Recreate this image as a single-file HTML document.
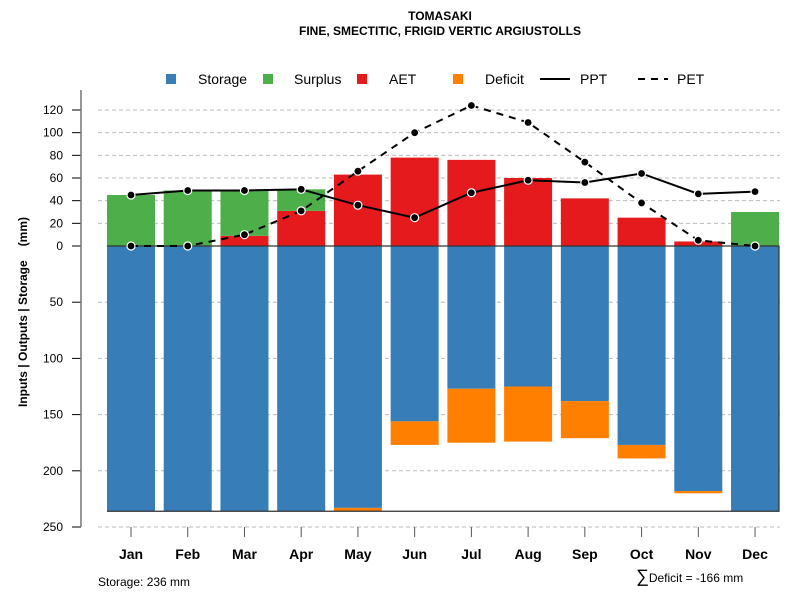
<!DOCTYPE html>
<html><head><meta charset="utf-8"><style>
body{margin:0;background:#fff}
svg text{font-family:"Liberation Sans",Arial,sans-serif}
</style></head><body>
<svg id="c" width="800" height="600" xmlns="http://www.w3.org/2000/svg">
<text x="440" y="20" text-anchor="middle" font-size="12" font-weight="bold">TOMASAKI</text>
<text x="440" y="35" text-anchor="middle" font-size="12" font-weight="bold">FINE, SMECTITIC, FRIGID VERTIC ARGIUSTOLLS</text>
<g id="legend">
<rect x="166" y="74" width="10" height="10" fill="#377eb8"/>
<text x="198" y="84" font-size="14">Storage</text>
<rect x="263" y="74" width="10" height="10" fill="#4daf4a"/>
<text x="294" y="84" font-size="14">Surplus</text>
<rect x="357" y="74" width="10" height="10" fill="#e41a1c"/>
<text x="389" y="84" font-size="14">AET</text>
<rect x="453" y="74" width="10" height="10" fill="#ff7f00"/>
<text x="485" y="84" font-size="14">Deficit</text>
<line x1="540" y1="79" x2="570" y2="79" stroke="#000" stroke-width="2"/>
<text x="580" y="84" font-size="14">PPT</text>
<line x1="638" y1="79" x2="668" y2="79" stroke="#000" stroke-width="2" stroke-dasharray="7,6"/>
<text x="677" y="84" font-size="14">PET</text>
</g>
<text transform="translate(27,312) rotate(-90)" text-anchor="middle" font-size="12" font-weight="bold">Inputs | Outputs | Storage<tspan dx="14">(mm)</tspan></text>
<text x="98" y="586" font-size="12">Storage: 236 mm</text>
<text x="636" y="582" font-size="12"><tspan font-size="18">∑</tspan>Deficit = -166 mm</text>
<g id="plot"></g>
</svg>
<script>
const months=["Jan","Feb","Mar","Apr","May","Jun","Jul","Aug","Sep","Oct","Nov","Dec"];
const storage=[236,236,236,236,233,156,127,125,138,177,218,236];
const deficit=[0,0,0,0,3,21,48,49,33,12,2,0];
const aet=[0,0,9,31,63,78,76,60,42,25,4,0];
const surplus=[45,49,40,19,0,0,0,0,0,0,0,30];
const ppt=[45,49,49,50,36,25,47,58,56,64,46,48];
const pet=[0,0,10,31,66,100,124,109,74,38,5,0];
const upTicks=[0,20,40,60,80,100,120];
const downTicks=[50,100,150,200,250];
const NS="http://www.w3.org/2000/svg";
const g=document.getElementById('plot');
const y0=246;
function yUp(v){return y0-v*1.1333;}
function yDn(v){return y0+v*1.124;}
function xC(i){return 131+i*56.73;}
function mk(t,a){const e=document.createElementNS(NS,t);for(const k in a)e.setAttribute(k,a[k]);g.appendChild(e);return e;}
upTicks.forEach(v=>{const y=yUp(v);
 if(v>0){const l=mk('line',{x1:98,x2:780,y1:y,y2:y,stroke:'#bbb','stroke-dasharray':'4,3'});
 
 }
 const t=mk('line',{x1:72,x2:81,y1:y,y2:y,stroke:'#000'});
 
 
 const tx=mk('text',{x:63,y:y+4,'text-anchor':'end','font-size':12});tx.textContent=v;
 
 });
downTicks.forEach(v=>{const y=yDn(v);
 const l=mk('line',{x1:98,x2:780,y1:y,y2:y,stroke:'#bbb','stroke-dasharray':'4,3'});
 
 
 const t=mk('line',{x1:72,x2:81,y1:y,y2:y,stroke:'#000'});
 
 
 const tx=mk('text',{x:63,y:y+4,'text-anchor':'end','font-size':12});tx.textContent=v;
 
 });
const ax=mk('line',{x1:81,x2:81,y1:90,y2:yDn(250),stroke:'#777','stroke-width':1.5});


const bw=48;
months.forEach((m,i)=>{const x=xC(i)-bw/2;
 const s=mk('rect',{x:x,y:y0,width:bw,height:yDn(storage[i])-y0,fill:'#377eb8'});
 
 
 if(deficit[i]>0){const d=mk('rect',{x:x,y:yDn(storage[i]),width:bw,height:yDn(storage[i]+deficit[i])-yDn(storage[i]),fill:'#ff7f00'});
 
 }
 if(aet[i]>0){const a=mk('rect',{x:x,y:yUp(aet[i]),width:bw,height:y0-yUp(aet[i]),fill:'#e41a1c'});
 
 }
 if(surplus[i]>0){const su=mk('rect',{x:x,y:yUp(aet[i]+surplus[i]),width:bw,height:yUp(aet[i])-yUp(aet[i]+surplus[i]),fill:'#4daf4a'});
 
 }
 const t=mk('line',{x1:xC(i),x2:xC(i),y1:yDn(250),y2:yDn(250)+10,stroke:'#555'});
 
 
 const tx=mk('text',{x:xC(i),y:559,'text-anchor':'middle','font-size':14,'font-weight':'bold'});tx.textContent=m;
 
 
});
const box=mk('path',{d:`M107 ${y0} H779 V${yDn(236)} H107`,fill:'none',stroke:'#333','stroke-width':1.2});


function line(arr,name,dash){const p=arr.map((v,i)=>(i?'L':'M')+xC(i)+' '+yUp(v)).join(' ');
 const l=mk('path',{d:p,fill:'none',stroke:'#000','stroke-width':2,'stroke-dasharray':dash||'none'});
 
 
 arr.forEach((v,i)=>{const c=mk('circle',{cx:xC(i),cy:yUp(v),r:4,fill:'#000',stroke:'#fff','stroke-width':1.2});
 
 });}
line(pet,'pet','7,6');
line(ppt,'ppt');
</script>
</body></html>
